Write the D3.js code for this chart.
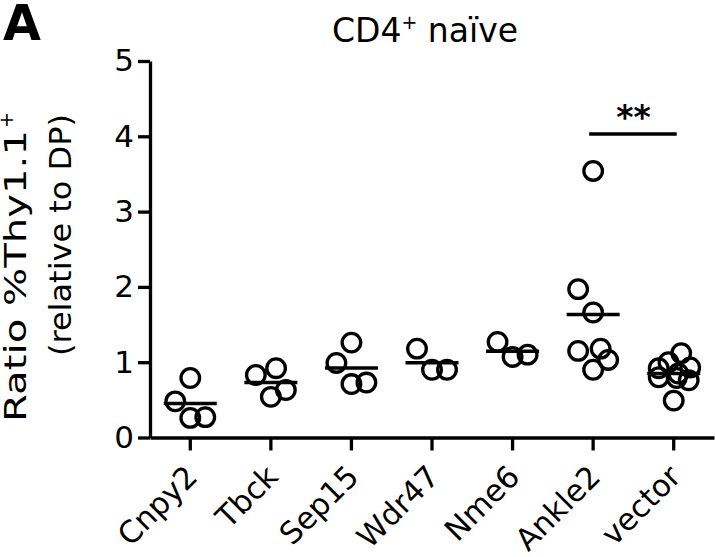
<!DOCTYPE html>
<html>
<head>
<meta charset="utf-8">
<script src="https://cdn.jsdelivr.net/npm/d3@7"></script>
<style>
  html, body { margin: 0; padding: 0; background: #fff; }
  text { font-family: "DejaVu Sans", "Liberation Sans", Arial, sans-serif; fill: #000; }
</style>
</head>
<body>
<svg id="chart" width="715" height="557"></svg>
<script>
// ---- data ----
const categories = ["Cnpy2", "Tbck", "Sep15", "Wdr47", "Nme6", "Ankle2", "vector"];
const cnpy2  = [0.79, 0.48, 0.26, 0.27];
const tbck   = [0.83, 0.92, 0.54, 0.63];
const sep15  = [1.26, 0.99, 0.71, 0.73];
const wdr47  = [1.18, 0.90, 0.90];
const nme6   = [1.27, 1.07, 1.10];
const ankle2 = [3.54, 1.97, 1.66, 1.15, 1.18, 1.03, 0.90];
const vector = [1.12, 1.00, 0.92, 0.93, 0.80, 0.85, 0.76, 0.79, 0.49];
// column slot of each point within its group (scatter dot plot layout)
const slots = [
  [0, -1, 0, 1],
  [-1, 0.35, 0, 1],
  [0, -1, 0, 1],
  [-1, 0, 1],
  [-1, 0, 1],
  [0, -1, 0, -1, 0.5, 1, 0],
  [0.5, -0.35, -1, 1.1, -1, 0.3, 1, 0.2, 0]
];
const seriesValues = [cnpy2, tbck, sep15, wdr47, nme6, ankle2, vector];
const yTicks = [0, 1, 2, 3, 4, 5];
const sigPair = ["Ankle2", "vector"];
const sigLevel = 4.03;
const sigLabel = "**";

// ---- layout ----
const FONT = "'DejaVu Sans', 'Liberation Sans', Arial, sans-serif";
const svg = d3.select("#chart");
const W = 715, H = 557;
svg.append("rect").attr("width", W).attr("height", H).attr("fill", "#fff");

const x = d3.scaleBand().domain(categories).range([150, 714]).padding(0);
const y = d3.scaleLinear().domain([0, 5]).range([437.5, 61]);
const xc = c => x(c) + x.bandwidth() / 2;
const slotScale = d3.scaleLinear().domain([-1, 1]).range([-15, 15]);

// y axis
const yAxis = svg.append("g").attr("transform", "translate(150,0)")
  .call(d3.axisLeft(y).tickValues(yTicks).tickSize(12).tickSizeOuter(0).tickPadding(4).tickFormat(d3.format("d")));
yAxis.select(".domain").attr("stroke", "#000").attr("stroke-width", 3.3);
yAxis.selectAll(".tick line").attr("stroke", "#000").attr("stroke-width", 3.3);
yAxis.selectAll(".tick text").attr("font-size", 31).attr("fill", "#000")
  .style("font-family", FONT);

// x axis
const xAxis = svg.append("g").attr("transform", "translate(0,437.5)")
  .call(d3.axisBottom(x).tickSize(13).tickSizeOuter(0));
xAxis.select(".domain").attr("stroke", "#000").attr("stroke-width", 3.3);
xAxis.selectAll(".tick line").attr("stroke", "#000").attr("stroke-width", 3.3);
xAxis.selectAll(".tick text")
  .attr("font-size", 30.5).attr("fill", "#000")
  .style("font-family", FONT)
  .attr("text-anchor", "end")
  .attr("x", 0).attr("y", 0).attr("dy", 0)
  .attr("transform", "translate(9,41) rotate(-45)");

// points
const pts = [];
categories.forEach((c, i) => {
  seriesValues[i].forEach((v, j) => pts.push({ c, v, s: slots[i][j] }));
});
svg.append("g").selectAll("circle").data(pts).join("circle")
  .attr("cx", d => xc(d.c) + slotScale(d.s))
  .attr("cy", d => y(d.v))
  .attr("r", 9.3)
  .attr("fill", "none")
  .attr("stroke", "#000")
  .attr("stroke-width", 3.3);

// mean lines
svg.append("g").selectAll("line").data(categories).join("line")
  .attr("x1", c => xc(c) - 26.5)
  .attr("x2", c => xc(c) + 26.5)
  .attr("y1", (c, i) => y(d3.mean(seriesValues[i])))
  .attr("y2", (c, i) => y(d3.mean(seriesValues[i])))
  .attr("stroke", "#000").attr("stroke-width", 3.5);

// significance
svg.append("line")
  .attr("x1", xc(sigPair[0]) - 4).attr("x2", xc(sigPair[1]) + 3)
  .attr("y1", y(sigLevel)).attr("y2", y(sigLevel))
  .attr("stroke", "#000").attr("stroke-width", 3.5);
svg.append("text")
  .attr("x", (xc(sigPair[0]) + xc(sigPair[1])) / 2)
  .attr("y", y(sigLevel) - 5)
  .attr("text-anchor", "middle").attr("font-size", 33).attr("font-weight", "bold")
  .text(sigLabel);

// title
const title = svg.append("text").attr("x", 425).attr("y", 42)
  .attr("text-anchor", "middle").attr("font-size", 33);
title.append("tspan").text("CD4");
title.append("tspan").attr("font-size", 19).attr("dy", -13).text("+");
title.append("tspan").attr("dy", 13).text(" naïve");

// panel letter
svg.append("text").attr("x", 3).attr("y", 40).attr("font-size", 49)
  .attr("font-weight", "bold").text("A");

// y label
svg.append("text").attr("transform", "translate(26,422) rotate(-90)")
  .attr("text-anchor", "start").attr("font-size", 31)
  .attr("textLength", 292).attr("lengthAdjust", "spacingAndGlyphs")
  .text("Ratio %Thy1.1");
svg.append("text").attr("transform", "translate(13,128) rotate(-90)")
  .attr("text-anchor", "start").attr("font-size", 19)
  .text("+");
svg.append("text").attr("transform", "translate(71,114) rotate(-90)")
  .attr("text-anchor", "end").attr("font-size", 31)
  .attr("textLength", 242).attr("lengthAdjust", "spacingAndGlyphs")
  .text("(relative to DP)");
</script>
</body>
</html>
